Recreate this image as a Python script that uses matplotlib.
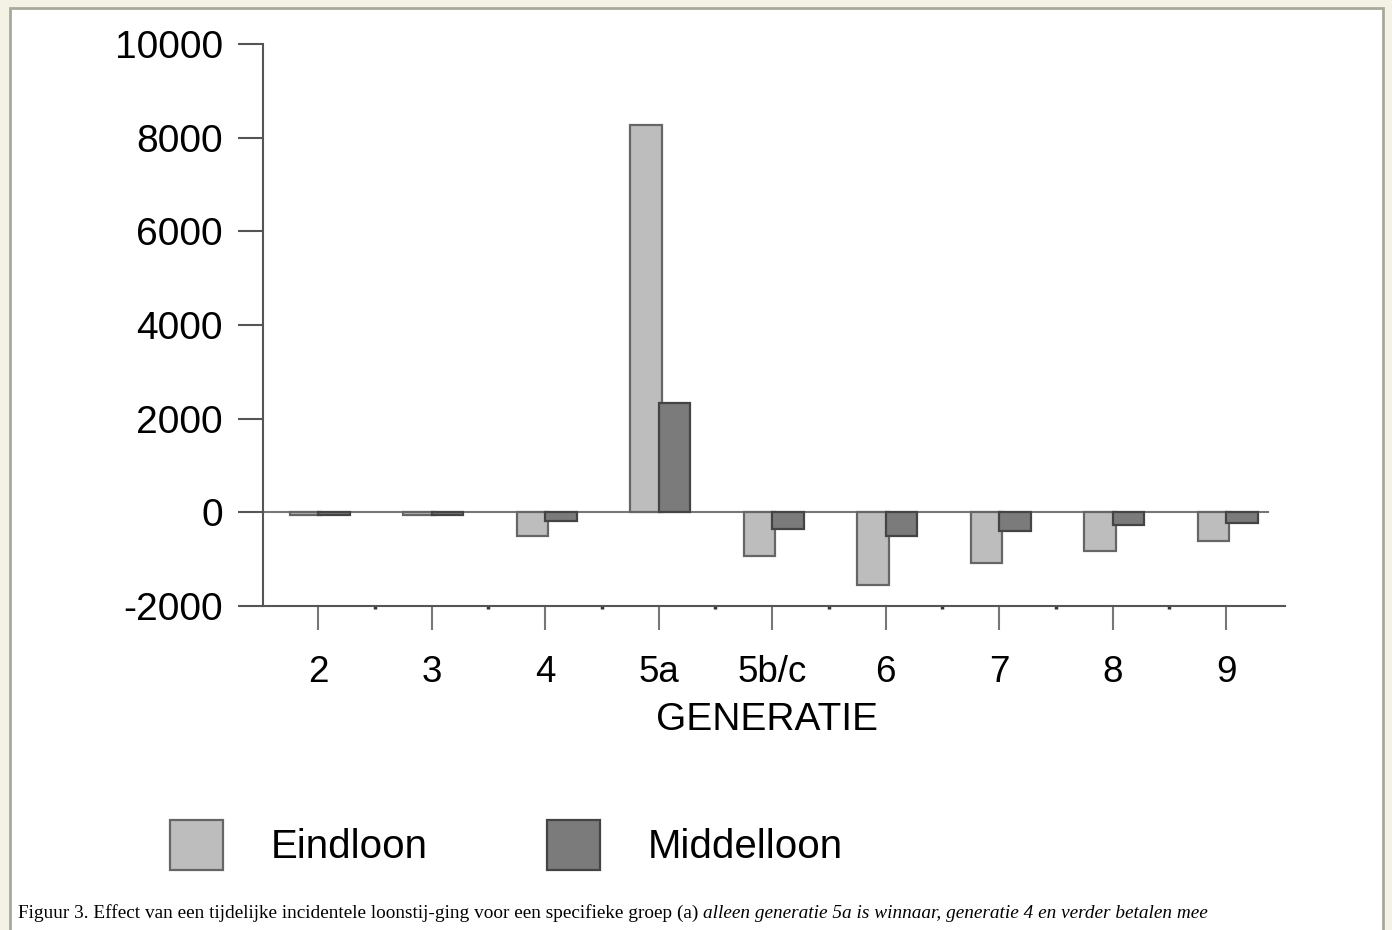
import matplotlib
matplotlib.use("Agg")
import matplotlib.pyplot as plt
import numpy as np
from matplotlib.patches import Rectangle

categories = ["2", "3", "4", "5a", "5b/c", "6", "7", "8", "9"]
eindloon = [-60, -60, -500, 8280, -930, -1550, -1090, -820, -620]
middelloon = [-60, -60, -180, 2330, -350, -500, -400, -280, -235]
y_ticks = [-2000, 0, 2000, 4000, 6000, 8000, 10000]
series_names = ["Eindloon", "Middelloon"]
xlabel = "GENERATIE"
caption_regular = "Figuur 3. Effect van een tijdelijke incidentele loonstij-ging voor een specifieke groep (a) "
caption_italic = "alleen generatie 5a is winnaar, generatie 4 en verder betalen mee"

W, H = 1392, 930
plt.rcParams['font.family'] = ['Liberation Sans', 'DejaVu Sans']
fig = plt.figure(figsize=(W / 100, H / 100), dpi=100, facecolor='#f4f2e4')

# page frame
fig.patches.append(Rectangle((10 / W, -0.01), (1383 - 10) / W, 1 - 8 / H + 0.01,
                             transform=fig.transFigure, facecolor='white',
                             edgecolor='#a8a89c', lw=2, zorder=-10))

x0_px, x1_px = 263, 1285
y_top_px, y_bot_px = 44, 606
ax = fig.add_axes([x0_px / W, 1 - y_bot_px / H, (x1_px - x0_px) / W, (y_bot_px - y_top_px) / H])
ax.set_facecolor('none')
ax.set_zorder(5)

spacing = 113.5
xmin = (x0_px - 318) / spacing
xmax = (x1_px - 318) / spacing
ax.set_xlim(xmin, xmax)
ax.set_ylim(-2000, 10000)

x = np.arange(len(categories))
w = 0.28
light = '#bdbdbd'
dark = '#7b7b7b'
ax.bar(x - 0.11, eindloon, width=w, color=light, edgecolor='#666666', lw=1.6,
       label=series_names[0], zorder=3)
ax.bar(x + 0.14, middelloon, width=w, color=dark, edgecolor='#444444', lw=1.6,
       label=series_names[1], zorder=4)

# zero line
ax.plot([xmin, (1268 - 318) / spacing], [0, 0], color='#777777', lw=1.5, zorder=2)

for s in ['top', 'right']:
    ax.spines[s].set_visible(False)
for s in ['left', 'bottom']:
    ax.spines[s].set_color('#555555')
    ax.spines[s].set_linewidth(1.5)

ax.set_xticks(x)
ax.set_xticklabels(categories)
ax.set_xticks(x[:-1] + 0.5, minor=True)
ax.tick_params(axis='x', which='major', direction='out', length=17, width=1.5,
               color='#777777', labelsize=26.5, pad=18)
ax.tick_params(axis='x', which='minor', direction='out', length=2.5, width=2.5,
               color='#333333')
ax.set_yticks(y_ticks)
ax.set_yticklabels([str(v) for v in y_ticks])
ax.tick_params(axis='y', direction='out', length=18, width=1.5, color='#555555',
               labelsize=28, pad=11)

fig.text(767 / W, 1 - 720 / H, xlabel, ha='center', va='center', fontsize=28)

leg = ax.legend(loc='center left', bbox_to_anchor=(170 / W, 1 - 845 / H),
                bbox_transform=fig.transFigure, ncol=2, frameon=False,
                fontsize=29, handlelength=1.32, handleheight=1.55,
                handletextpad=1.17, columnspacing=2.98, borderpad=0, borderaxespad=0)

t1 = fig.text(18 / W, 1 - 913 / H, caption_regular, ha='left', va='center',
              fontsize=13.9, family='Liberation Serif')
fig.canvas.draw()
bb = t1.get_window_extent(fig.canvas.get_renderer())
fig.text(bb.x1 / W, 1 - 913 / H, caption_italic, ha='left', va='center',
         fontsize=13.9, family='Liberation Serif', style='italic')

fig.savefig('out.png', dpi=100, facecolor=fig.get_facecolor())
